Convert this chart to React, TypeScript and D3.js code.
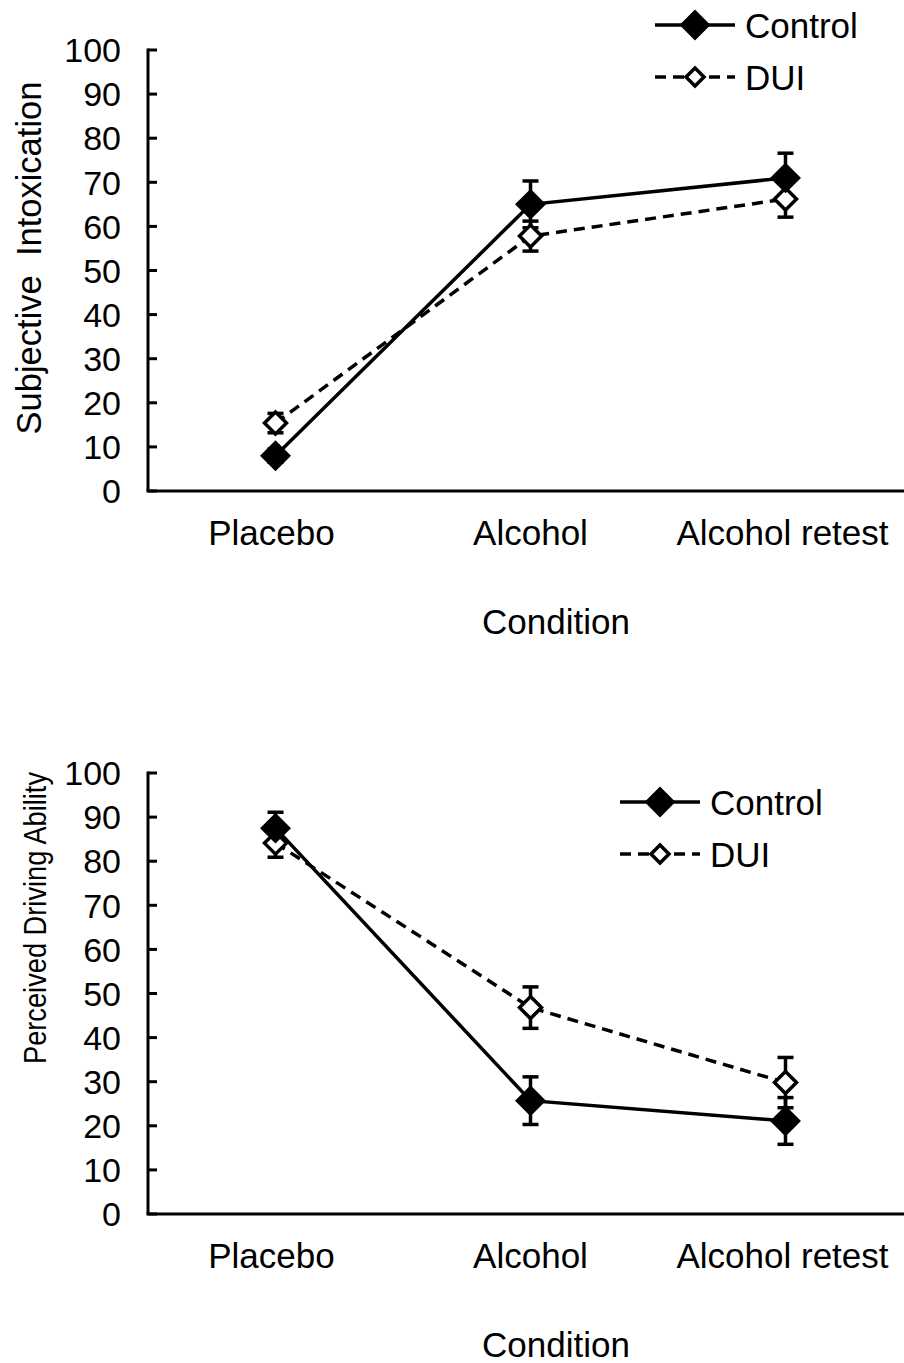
import React, { useEffect } from "react";
import * as d3 from "d3";

// conditions on the x axis
const categories = ["Placebo", "Alcohol", "Alcohol retest"];
const yTicks = [0, 10, 20, 30, 40, 50, 60, 70, 80, 90, 100];

// top panel: subjective intoxication
const intoxControl = [8, 65, 71];
const intoxControlSE = [1.5, 5.3, 5.6];
const intoxDUI = [15.4, 57.8, 66.2];
const intoxDUISE = [2.2, 3.4, 4.1];

// bottom panel: perceived driving ability
const drivingControl = [87.5, 25.7, 21.1];
const drivingControlSE = [3.6, 5.4, 5.3];
const drivingDUI = [84.1, 46.8, 29.8];
const drivingDUISE = [3.2, 4.7, 5.7];

const FONT = "'Liberation Sans', Arial, sans-serif";

const diamond = (r: number) => `M0,${-r}L${r},0L0,${r}L${-r},0Z`;

type Series = { values: number[]; se: number[]; filled: boolean };

const Panel = ({
  top,
  yLabel,
  yLabelPos,
  series,
  legend,
}: {
  top: number;
  yLabel: string;
  yLabelPos: { x: number; y: number; size: number; length?: number };
  series: Series[];
  legend: { x: number; y: number };
}) => {
  const left = 148;
  const plotH = 441;
  const x = d3.scaleBand().domain(categories).range([left, left + 765]);
  const cx = (c: string) => (x(c) as number) + x.bandwidth() / 2;
  const y = d3.scaleLinear().domain([0, 100]).range([top + plotH, top]);
  const line = d3
    .line<number>()
    .x((_, i) => cx(categories[i]))
    .y((d) => y(d));

  return (
    <g>
      {/* y axis */}
      <line x1={left} x2={left} y1={y(100) - 1.5} y2={y(0)} stroke="#000" strokeWidth={3} />
      {yTicks.map((t) => (
        <g key={t}>
          <line x1={left} x2={left + 9} y1={y(t)} y2={y(t)} stroke="#000" strokeWidth={3} />
          <text x={left - 27} y={y(t)} dy="0.36em" textAnchor="end" fontSize={34} fontFamily={FONT}>
            {t}
          </text>
        </g>
      ))}
      {/* x axis */}
      <line x1={left - 1.5} x2={904} y1={y(0)} y2={y(0)} stroke="#000" strokeWidth={3} />
      {categories.map((c, i) => (
        <text key={c} x={cx(c) - (i === 0 ? 4 : i === 2 ? 3 : 0)} y={y(0) + 54} textAnchor="middle" fontSize={35} fontFamily={FONT}>
          {c}
        </text>
      ))}
      <text x={556} y={y(0) + 143} textAnchor="middle" fontSize={35} fontFamily={FONT}>
        Condition
      </text>
      <text
        transform={`translate(${yLabelPos.x},${yLabelPos.y}) rotate(-90)`}
        textAnchor="middle"
        fontSize={yLabelPos.size}
        fontFamily={FONT}
        textLength={yLabelPos.length}
        lengthAdjust={yLabelPos.length ? "spacingAndGlyphs" : undefined}
        style={{ whiteSpace: "pre" }}
      >
        {yLabel}
      </text>

      {/* error bars */}
      {series.map((s, si) =>
        s.values.map((v, i) => {
          const px = cx(categories[i]);
          return (
            <g key={`e${si}-${i}`} stroke="#000" strokeWidth={3.5}>
              <line x1={px} x2={px} y1={y(v + s.se[i])} y2={y(v - s.se[i])} />
              <line x1={px - 8} x2={px + 8} y1={y(v + s.se[i])} y2={y(v + s.se[i])} />
              <line x1={px - 8} x2={px + 8} y1={y(v - s.se[i])} y2={y(v - s.se[i])} />
            </g>
          );
        })
      )}
      {/* lines */}
      {series.map((s, si) => (
        <path
          key={`l${si}`}
          d={line(s.values) as string}
          fill="none"
          stroke="#000"
          strokeWidth={3.5}
          strokeDasharray={s.filled ? undefined : "11,7"}
        />
      ))}
      {/* markers */}
      {series.map((s, si) =>
        s.values.map((v, i) => (
          <path
            key={`m${si}-${i}`}
            transform={`translate(${cx(categories[i])},${y(v)})`}
            d={diamond(s.filled ? 13 : 11)}
            fill={s.filled ? "#000" : "#fff"}
            stroke="#000"
            strokeWidth={3.5}
          />
        ))
      )}

      {/* legend */}
      {[
        { label: "Control", filled: true },
        { label: "DUI", filled: false },
      ].map((l, i) => {
        const ly = legend.y + i * 52;
        return (
          <g key={l.label}>
            <line
              x1={legend.x}
              x2={legend.x + 80}
              y1={ly}
              y2={ly}
              stroke="#000"
              strokeWidth={3.5}
              strokeDasharray={l.filled ? undefined : "11,7"}
            />
            <path
              transform={`translate(${legend.x + 40},${ly})`}
              d={diamond(l.filled ? 13 : 9)}
              fill={l.filled ? "#000" : "#fff"}
              stroke="#000"
              strokeWidth={3.5}
            />
            <text x={legend.x + 90} y={ly} dy="0.36em" fontSize={35} fontFamily={FONT}>
              {l.label}
            </text>
          </g>
        );
      })}
    </g>
  );
};

const App = () => {
  useEffect(() => {
    document.body.style.margin = "0";
  }, []);

  return (
    <svg width={904} height={1363} style={{ display: "block", background: "#fff" }}>
      <rect width={904} height={1363} fill="#fff" />
      <Panel
        top={50}
        yLabel={"Subjective  Intoxication"}
        yLabelPos={{ x: 41, y: 258, size: 34.5 }}
        legend={{ x: 655, y: 25 }}
        series={[
          { values: intoxDUI, se: intoxDUISE, filled: false },
          { values: intoxControl, se: intoxControlSE, filled: true },
        ]}
      />
      <Panel
        top={773}
        yLabel={"Perceived Driving Ability"}
        yLabelPos={{ x: 46, y: 918, size: 32, length: 292 }}
        legend={{ x: 620, y: 802 }}
        series={[
          { values: drivingDUI, se: drivingDUISE, filled: false },
          { values: drivingControl, se: drivingControlSE, filled: true },
        ]}
      />
    </svg>
  );
};

export default App;
